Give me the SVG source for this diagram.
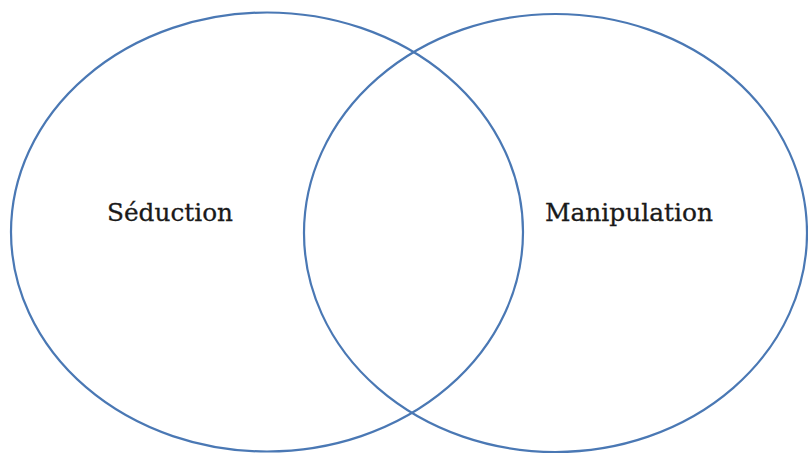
<svg xmlns="http://www.w3.org/2000/svg" width="808" height="455" viewBox="0 0 808 455">
<style>
.c{fill:none;stroke:#4a78b4;stroke-width:2.2}
.t{font-family:"DejaVu Serif","Liberation Serif",serif;font-size:25px;fill:#1a1a1a;stroke:#1a1a1a;stroke-width:0.3}
</style>
<rect width="808" height="455" fill="#fff"/>
<g id="seduction">
<ellipse class="c" cx="267" cy="232" rx="256" ry="219.5"/>
<text class="t" x="107" y="221" textLength="126" lengthAdjust="spacingAndGlyphs">Séduction</text>
</g>
<g id="manipulation">
<ellipse class="c" cx="555.5" cy="233" rx="251.5" ry="219"/>
<text class="t" x="545" y="221" textLength="168" lengthAdjust="spacingAndGlyphs">Manipulation</text>
</g>
<g id="connectors"/>
</svg>
